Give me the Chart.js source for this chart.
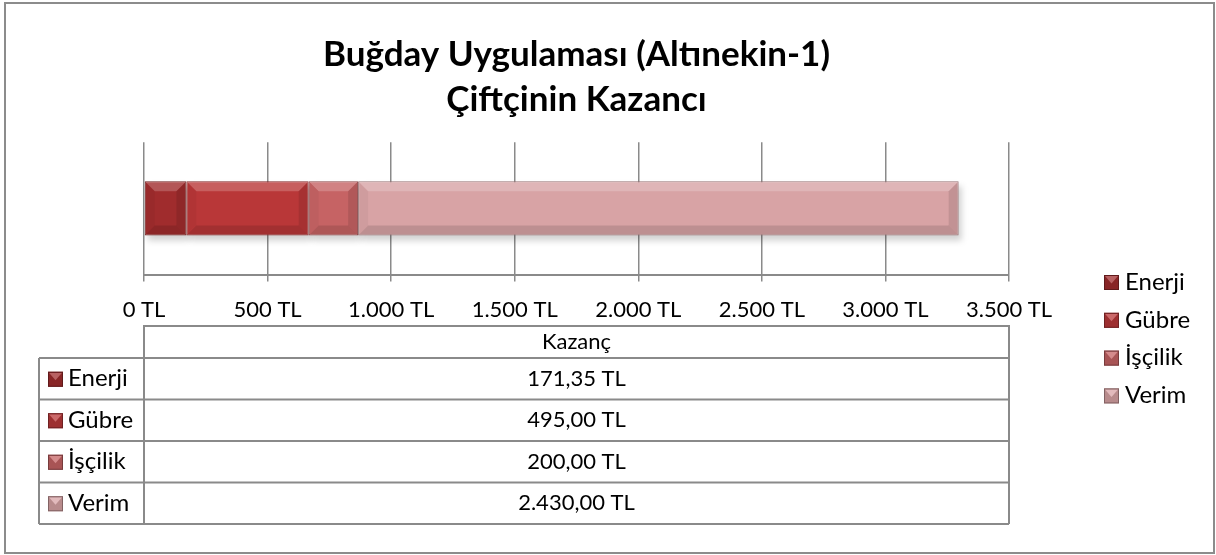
<!DOCTYPE html>
<html>
<head>
<meta charset="utf-8">
<script src="https://cdn.jsdelivr.net/npm/chart.js@4.4.1/dist/chart.umd.min.js"></script>
<style>
    body { margin: 0; background: #fff; }
    canvas { display: block; }
</style>
</head>
<body>
<canvas id="kazancChart" width="1216" height="555"></canvas>
<script>
// chart values
var titleLines = ['Buğday Uygulaması (Altınekin-1)', 'Çiftçinin Kazancı'];
var categories = ['Kazanç'];
var seriesNames = ['Enerji', 'Gübre', 'İşçilik', 'Verim'];
var enerji = [171.35];
var gubre = [495.00];
var iscilik = [200.00];
var verim = [2430.00];
var xMin = 0;
var xMax = 3500;
var xStep = 500;

var seriesValues = [enerji, gubre, iscilik, verim];
var seriesColors = ['#a02c2d', '#b93738', '#c66364', '#d8a3a5'];

var FONT = 'Lato, "Open Sans", sans-serif';
var LINE = '#8a8a8a';

// turkish number format: 1.234,56
function formatTL(v, decimals) {
    var parts = v.toFixed(decimals).split('.');
    var intPart = parts[0].replace(/\B(?=(\d{3})+(?!\d))/g, '.');
    return intPart + (parts.length > 1 ? ',' + parts[1] : '') + ' TL';
}

function shade(hex, amt) {
    var n = parseInt(hex.slice(1), 16);
    var r = (n >> 16) & 255, g = (n >> 8) & 255, b = n & 255;
    if (amt > 0) {
        r = Math.round(r + (255 - r) * amt);
        g = Math.round(g + (255 - g) * amt);
        b = Math.round(b + (255 - b) * amt);
    } else {
        r = Math.round(r * (1 + amt));
        g = Math.round(g * (1 + amt));
        b = Math.round(b * (1 + amt));
    }
    return 'rgb(' + r + ',' + g + ',' + b + ')';
}

function drawMarker(ctx, x, y, size, color) {
    ctx.save();
    ctx.fillStyle = shade(color, -0.15);
    ctx.fillRect(x, y, size, size);
    // lighter top triangle
    ctx.beginPath();
    ctx.moveTo(x + 1, y + 1);
    ctx.lineTo(x + size - 1, y + 1);
    ctx.lineTo(x + size / 2, y + size / 2 + 1);
    ctx.closePath();
    ctx.fillStyle = shade(color, 0.25);
    ctx.fill();
    ctx.strokeStyle = shade(color, -0.4);
    ctx.lineWidth = 1;
    ctx.strokeRect(x + 0.5, y + 0.5, size - 1, size - 1);
    ctx.restore();
}

var datasets = [];
for (var i = 0; i < seriesNames.length; i++) {
    datasets.push({
        label: seriesNames[i],
        data: seriesValues[i],
        backgroundColor: seriesColors[i],
        borderColor: shade(seriesColors[i], -0.3),
        borderWidth: 1,
        borderSkipped: false,
        barPercentage: 0.41,
        categoryPercentage: 1
    });
}

// bevel on the bars, like the excel 3d look
var bevelPlugin = {
    id: 'bevel',
    beforeDatasetsDraw: function (chart) {
        var ctx = chart.ctx;
        chart.data.datasets.forEach(function (ds, di) {
            chart.getDatasetMeta(di).data.forEach(function (bar) {
                var p = bar.getProps(['x', 'y', 'base', 'height'], true);
                ctx.save();
                ctx.fillStyle = 'rgba(0,0,0,0.18)';
                ctx.filter = 'blur(3px)';
                ctx.fillRect(p.base + 3, p.y - p.height / 2 + 5, p.x - p.base, p.height);
                ctx.restore();
            });
        });
    },
    afterDatasetsDraw: function (chart) {
        var ctx = chart.ctx;
        var b = 9;
        chart.data.datasets.forEach(function (ds, di) {
            chart.getDatasetMeta(di).data.forEach(function (bar) {
                var p = bar.getProps(['x', 'y', 'base', 'height'], true);
                var l = p.base + 1, r = p.x - 1;
                var t = p.y - p.height / 2 + 1, btm = p.y + p.height / 2 - 1;
                ctx.save();
                // top
                ctx.beginPath();
                ctx.moveTo(l, t); ctx.lineTo(r, t); ctx.lineTo(r - b, t + b); ctx.lineTo(l + b, t + b); ctx.closePath();
                ctx.fillStyle = 'rgba(255,255,255,0.2)';
                ctx.fill();
                // left
                ctx.beginPath();
                ctx.moveTo(l, t); ctx.lineTo(l + b, t + b); ctx.lineTo(l + b, btm - b); ctx.lineTo(l, btm); ctx.closePath();
                ctx.fillStyle = 'rgba(0,0,0,0.04)';
                ctx.fill();
                // right
                ctx.beginPath();
                ctx.moveTo(r, t); ctx.lineTo(r - b, t + b); ctx.lineTo(r - b, btm - b); ctx.lineTo(r, btm); ctx.closePath();
                ctx.fillStyle = 'rgba(0,0,0,0.10)';
                ctx.fill();
                // bottom
                ctx.beginPath();
                ctx.moveTo(l, btm); ctx.lineTo(r, btm); ctx.lineTo(r - b, btm - b); ctx.lineTo(l + b, btm - b); ctx.closePath();
                ctx.fillStyle = 'rgba(0,0,0,0.12)';
                ctx.fill();
                ctx.restore();
            });
        });
    }
};

// data table under the axis, legend on the right, outer frame
var tablePlugin = {
    id: 'dataTable',
    afterDraw: function (chart) {
        var ctx = chart.ctx;
        var xs = chart.scales.x;
        var left = xs.left, right = xs.right;
        var labelLeft = 39;
        var headTop = 326, headBottom = 358;
        var rowH = 41.5;
        var bottom = headBottom + rowH * seriesNames.length;

        ctx.save();
        ctx.strokeStyle = LINE;
        ctx.lineWidth = 2;
        ctx.beginPath();
        // header box
        ctx.moveTo(left, bottom); ctx.lineTo(left, headTop); ctx.lineTo(right, headTop); ctx.lineTo(right, bottom);
        ctx.moveTo(labelLeft, headBottom); ctx.lineTo(labelLeft, bottom);
        for (var r = 0; r <= seriesNames.length; r++) {
            var yy = headBottom + rowH * r;
            ctx.moveTo(labelLeft, yy); ctx.lineTo(right, yy);
        }
        ctx.stroke();

        ctx.fillStyle = '#000';
        ctx.font = '22px ' + FONT;
        ctx.textBaseline = 'middle';
        ctx.textAlign = 'center';
        ctx.fillText(categories[0], (left + right) / 2, (headTop + headBottom) / 2);

        for (var k = 0; k < seriesNames.length; k++) {
            var cy = headBottom + rowH * k + rowH / 2;
            drawMarker(ctx, 48, cy - 7, 15, seriesColors[k]);
            ctx.fillStyle = '#000';
            ctx.textAlign = 'left';
            ctx.font = '24px ' + FONT;
            ctx.fillText(seriesNames[k], 68, cy);
            ctx.textAlign = 'center';
            ctx.font = '22px ' + FONT;
            ctx.fillText(formatTL(seriesValues[k][0], 2), (left + right) / 2, cy);
        }

        // legend
        ctx.textAlign = 'left';
        ctx.font = '24px ' + FONT;
        for (var m = 0; m < seriesNames.length; m++) {
            var ly = 282 + m * 37.8;
            drawMarker(ctx, 1104, ly - 7, 15, seriesColors[m]);
            ctx.fillStyle = '#000';
            ctx.fillText(seriesNames[m], 1125, ly);
        }

        // chart frame
        ctx.strokeStyle = '#8c8c8c';
        ctx.lineWidth = 2;
        ctx.strokeRect(5, 3, 1209, 550);
        ctx.restore();
    }
};

var ctx = document.getElementById('kazancChart');
var myChart = new Chart(ctx, {
    type: 'bar',
    data: {
        labels: categories,
        datasets: datasets
    },
    options: {
        responsive: false,
        animation: false,
        indexAxis: 'y',
        layout: {
            padding: { left: 144, right: 207, top: 0, bottom: 217 }
        },
        plugins: {
            legend: { display: false },
            tooltip: { enabled: false },
            title: {
                display: true,
                text: titleLines,
                color: '#000',
                font: { family: FONT, size: 35, weight: 'bold', lineHeight: 1.29 },
                padding: { top: 32, bottom: 20 }
            }
        },
        scales: {
            x: {
                stacked: true,
                min: xMin,
                max: xMax,
                ticks: {
                    stepSize: xStep,
                    color: '#000',
                    padding: 15,
                    maxRotation: 0,
                    font: { family: FONT, size: 22 },
                    callback: function (value) { return formatTL(value, 0); }
                },
                grid: {
                    color: LINE,
                    lineWidth: 1.5,
                    tickLength: 7
                },
                border: { color: LINE, width: 2 }
            },
            y: {
                stacked: true,
                display: false
            }
        }
    },
    plugins: [bevelPlugin, tablePlugin]
});
</script>
</body>
</html>
